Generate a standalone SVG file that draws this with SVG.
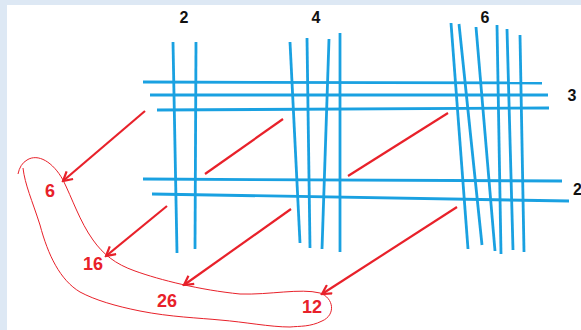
<svg xmlns="http://www.w3.org/2000/svg" width="581" height="330" viewBox="0 0 581 330">
<style>
.b{stroke:#1aa1e1;stroke-width:2.8;fill:none;stroke-linecap:butt}
.r{stroke:#e8212a;stroke-width:2.2;fill:none}
.lbl{font-family:"Liberation Sans",Arial,sans-serif;font-weight:bold;font-size:16px;fill:#111;text-anchor:middle}
.num{font-family:"Liberation Sans",Arial,sans-serif;font-weight:bold;font-size:18px;fill:#e8212a;text-anchor:middle}
</style>
<defs>
<marker id="ah" markerWidth="12" markerHeight="12" refX="10" refY="6" orient="auto" markerUnits="userSpaceOnUse">
<path d="M1,1 L10,6 L1,11" fill="none" stroke="#e8212a" stroke-width="2.2"/>
</marker>
</defs>
<rect x="0" y="0" width="581" height="330" fill="#dde8f4"/>
<rect x="7" y="5" width="574" height="325" fill="#ffffff"/>
<g id="grid">
<line class="b" x1="143" y1="82" x2="542" y2="83"/>
<line class="b" x1="150" y1="95" x2="548" y2="95"/>
<line class="b" x1="157" y1="110" x2="549" y2="108"/>
<line class="b" x1="143" y1="179" x2="562" y2="181"/>
<line class="b" x1="152" y1="194" x2="569" y2="201"/>
<line class="b" x1="173" y1="42" x2="177" y2="253"/>
<line class="b" x1="196" y1="42" x2="195" y2="249"/>
<line class="b" x1="290" y1="42" x2="300" y2="243"/>
<line class="b" x1="307" y1="38" x2="310" y2="248"/>
<line class="b" x1="329" y1="39" x2="322" y2="249"/>
<line class="b" x1="340" y1="33" x2="340" y2="252"/>
<line class="b" x1="451" y1="23" x2="468" y2="249"/>
<line class="b" x1="459" y1="24" x2="482" y2="245"/>
<line class="b" x1="476" y1="27" x2="495" y2="251"/>
<line class="b" x1="497" y1="25" x2="501" y2="254"/>
<line class="b" x1="507" y1="29" x2="513" y2="250"/>
<line class="b" x1="520" y1="35" x2="524" y2="252"/>
</g>
<g id="labels">
<text class="lbl" x="184" y="23">2</text>
<text class="lbl" x="316" y="23">4</text>
<text class="lbl" x="485" y="23">6</text>
<text class="lbl" x="572" y="101">3</text>
<text class="lbl" x="573" y="195" style="text-anchor:start">2</text>
</g>
<g id="loop">
<path d="M18,174 Q20,164 27,160 C38,153 53,162 63,180 C72,198 80,222 93,240 C103,254 115,264 135,271 C160,280 200,290 240,294 C270,295 300,288 320,293 C334,298 336,315 322,321 C310,327 300,326 290,327 C270,327 245,322 220,320 C200,318 170,317 140,311 C115,306 95,300 80,292 C60,280 48,255 40,225 C32,200 25,185 23,168" fill="none" stroke="#e8212a" stroke-width="1"/>
</g>
<g id="connectors">
<line class="r" x1="145" y1="111" x2="63" y2="181" marker-end="url(#ah)"/>
<line class="r" x1="283" y1="119" x2="205" y2="174"/>
<line class="r" x1="448" y1="113" x2="348" y2="176"/>
<line class="r" x1="167" y1="206" x2="106" y2="256" marker-end="url(#ah)"/>
<line class="r" x1="291" y1="209" x2="184" y2="285" marker-end="url(#ah)"/>
<line class="r" x1="457" y1="207" x2="322" y2="294" marker-end="url(#ah)"/>
</g>
<g id="n6"><text class="num" x="50" y="197">6</text></g>
<g id="n16"><text class="num" x="93" y="270">16</text></g>
<g id="n26"><text class="num" x="167" y="307">26</text></g>
<g id="n12"><text class="num" x="312" y="313">12</text></g>
</svg>
